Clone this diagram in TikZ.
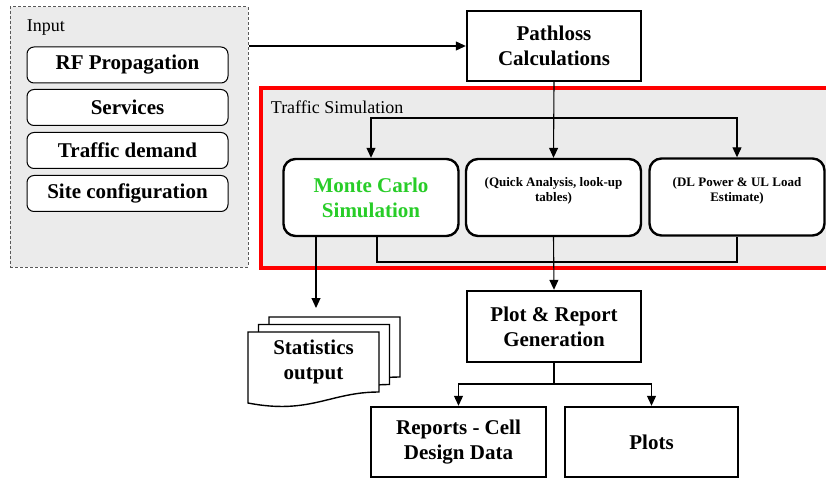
\documentclass[tikz,border=0pt]{standalone}
\usepackage{fontspec}
\setmainfont{Liberation Serif}
\usepackage{tikz}
\usetikzlibrary{arrows.meta}
\definecolor{panelgray}{RGB}{235,235,235}
\definecolor{mcgreen}{RGB}{40,205,40}
\tikzset{
  every node/.append style={font=\fontsize{21}{25}\selectfont\bfseries, align=center},
  stepbox/.style={draw, line width=2.4pt, fill=white, inner sep=2pt},
  simbox/.style={stepbox, rounded corners=12pt, minimum width=175pt, minimum height=77pt},
  inbox/.style={draw, line width=1pt, fill=white, rounded corners=7pt, minimum width=201pt, minimum height=36pt},
  smalltext/.style={font=\fontsize{13}{15}\selectfont\bfseries},
  paneltitle/.style={font=\fontsize{18}{21}\selectfont, anchor=west},
}

\begin{document}
\begin{tikzpicture}[x=1pt, y=-1pt, >={Triangle[length=10pt,width=9pt]}, line width=1.1pt]
    \useasboundingbox (0,0) rectangle (826,478);

    % input panel
    \node[draw=black!65, dashed, dash pattern=on 3pt off 2pt, line width=1pt, fill=panelgray,
          minimum width=238pt, minimum height=260pt] (input) at (129,137) {};
    \node[paneltitle] (inputtitle) at (23,28) {Input};
    \node[inbox] (rf) at (127.5,65) {RF Propagation};
    \node[inbox] (services) at (127.5,107.5) {Services};
    \node[inbox] (demand) at (127.5,150.5) {Traffic demand};
    \node[inbox] (sites) at (127.5,193.5) {Site configuration};

    \node[stepbox, minimum width=174pt, minimum height=70pt] (pathloss) at (554,46) {Pathloss\\Calculations};
    \draw[->] (pathloss.west -| input.east) -- (pathloss.west);

    % traffic simulation panel
    \node[draw=red, line width=3.3pt, fill=panelgray, minimum width=570pt, minimum height=180pt] (trafsim) at (546,178) {};
    \node[paneltitle] (trafsimtitle) at (267,107) {Traffic Simulation};

    \node[simbox, text=mcgreen] (mc) at (371,197.5) {Monte Carlo\\Simulation};
    \node[simbox] (quick) at (553.5,197.5) {};
    \node[smalltext, anchor=north] at ([yshift=-16pt]quick.north) {(Quick Analysis, look-up\\tables)};
    \node[simbox] (dl) at (737,197) {};
    \node[smalltext, anchor=north] at ([yshift=-16pt]dl.north) {(DL Power \& UL Load\\Estimate)};

    \coordinate (branch) at (554,118);
    \coordinate (collect) at (554,262);
    \draw[->] (pathloss.south) -- (quick.north);
    \draw[->] (branch) -| (mc.north);
    \draw[->] (branch) -| (dl.north);
    \draw ([xshift=6pt]mc.south) |- (collect) -| (dl.south);

    % statistics output (stacked documents)
    \foreach \k in {2,1,0}
        \draw[fill=white, line width=1.4pt, shift={({10.5*\k},{-7.5*\k})}]
            (248,332) -- (379,332) -- (379,392) .. controls (330,392) and (310,415) .. (248,403) -- cycle;
    \node (stats) at (313.5,362) {Statistics\\output};
    \coordinate (statstop) at (316,308);
    \draw[->] (mc.south -| statstop) -- (statstop);

    \node[stepbox, minimum width=174pt, minimum height=71pt] (plot) at (554,326.5) {Plot \& Report\\Generation};
    \draw[->] (quick.south) -- (plot.north);

    \node[stepbox, minimum width=175pt, minimum height=70pt] (reports) at (458.5,442) {Reports - Cell\\Design Data};
    \node[stepbox, minimum width=173pt, minimum height=70pt] (plots) at (651.5,442) {Plots};
    \coordinate (split) at (554,384);
    \draw (plot.south) -- (split);
    \draw[->] (split) -| (reports.north);
    \draw[->] (split) -| (plots.north);
\end{tikzpicture}
\end{document}
